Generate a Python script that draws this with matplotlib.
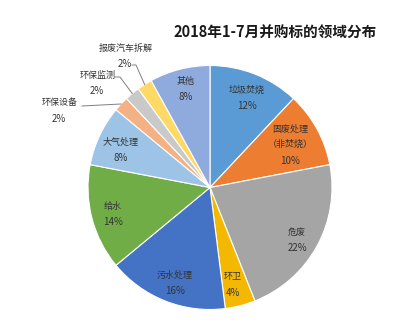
import matplotlib
matplotlib.use("Agg")
import matplotlib.pyplot as plt
import numpy as np

plt.rcParams['font.family'] = ['Noto Sans CJK SC', 'DejaVu Sans']

title = "2018年1-7月并购标的领域分布"
categories = ["垃圾焚烧", "固废处理\n（非焚烧）", "危废", "环卫", "污水处理", "给水",
              "大气处理", "环保设备", "环保监测", "报废汽车拆解", "其他"]
values = [12, 10, 22, 4, 16, 14, 8, 2, 2, 2, 8]
colors = ["#5B9BD5", "#ED7D31", "#A5A5A5", "#F5B800", "#4472C4", "#70AD47",
          "#9DC3E6", "#F4B183", "#C9C9C9", "#FFD966", "#8FAADC"]

W, H = 402, 332
fig = plt.figure(figsize=(W / 100, H / 100), dpi=100)
ax = fig.add_axes([0, 0, 1, 1])
ax.set_xlim(0, W)
ax.set_ylim(H, 0)
ax.set_aspect("equal")
ax.axis("off")

cx, cy, R = 210, 187.5, 122

# pie drawn clockwise from 12 o'clock; y axis is inverted so use counterclock=True
wedges, _ = ax.pie(values, colors=colors, startangle=-90, counterclock=True,
                   center=(cx, cy), radius=R, frame=True,
                   wedgeprops=dict(edgecolor="white", linewidth=0.8))
ax.set_xlim(0, W)
ax.set_ylim(H, 0)
ax.axis("off")

ax.text(275, 33, title, ha="center", va="center", fontsize=10.5,
        fontweight="bold", color="#1a1a1a")

fs = 6.5
tc = "#333333"
# label positions in pixel coordinates (name line top, percent line below)
inside_pos = {0: (247, 90), 1: (290, 137), 2: (297, 232), 3: (233, 277),
              4: (175, 275), 5: (113, 206), 6: (121, 142), 10: (186, 81)}
for i, (x, y) in inside_pos.items():
    name = categories[i]
    pct = f"{values[i]}%"
    ax.text(x, y, name, ha="center", va="center", fontsize=fs, color=tc,
            linespacing=1.9)
    nlines = name.count("\n") + 1
    ax.text(x, y + 8 * nlines + 8, pct, ha="center", va="center",
            fontsize=fs + 0.5, color=tc)

# outside labels with leader lines to the wedge edge
outside = {9: ((126, 48), [(132, 65), (136, 65)]),
           8: ((98, 75), [(115, 77), (120, 77)]),
           7: ((60, 103), [(82, 106)])}
cum = np.cumsum([0] + values)
total = float(sum(values))
for i, ((x, y), pts) in outside.items():
    ax.text(x, y, categories[i], ha="center", va="center", fontsize=fs, color=tc)
    ax.text(x - 1, y + 16, f"{values[i]}%", ha="center", va="center",
            fontsize=fs + 0.5, color=tc)
    mid = (cum[i] + values[i] / 2) / total * 360.0
    ang = np.deg2rad(90 - mid)
    ex, ey = cx + R * np.cos(ang), cy - R * np.sin(ang)
    xs = [p[0] for p in pts] + [ex]
    ys = [p[1] for p in pts] + [ey]
    ax.plot(xs, ys, color="#7f7f7f", linewidth=0.7)

fig.savefig("out.png", dpi=100, facecolor="white")
